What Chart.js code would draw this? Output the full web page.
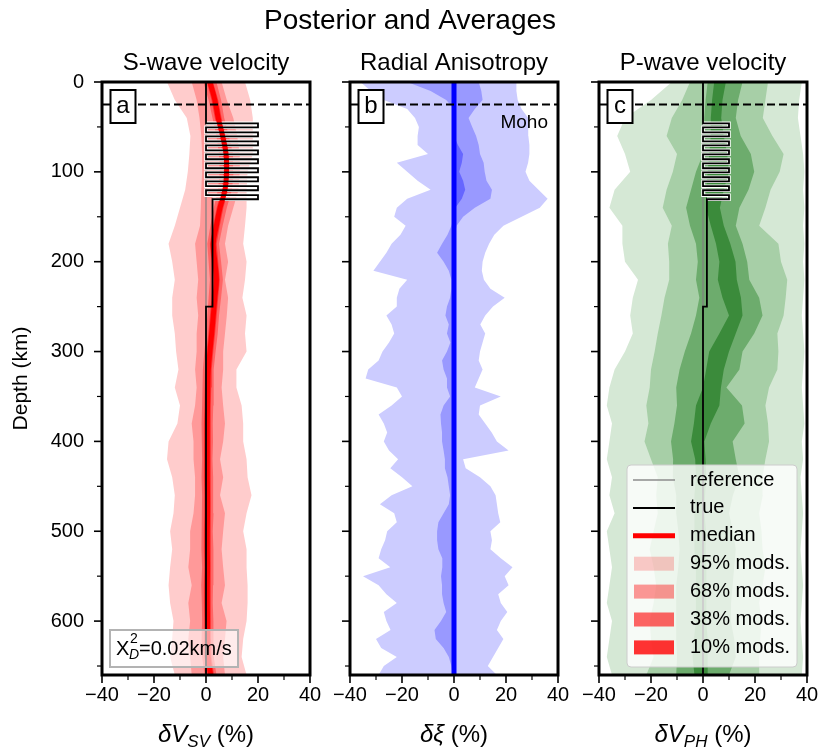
<!DOCTYPE html>
<html>
<head>
<meta charset="utf-8">
<title>Posterior and Averages</title>
<script src="https://cdn.jsdelivr.net/npm/chart.js@4"></script>
<style>
  html, body { margin: 0; padding: 0; background: #fff; }
  #figure { position: relative; width: 822px; height: 755px; }
  #figure canvas { position: absolute; left: 0; top: 0; }
</style>
</head>
<body>
<div id="figure">
  <canvas id="panelA" width="822" height="755"></canvas>
  <canvas id="panelB" width="822" height="755"></canvas>
  <canvas id="panelC" width="822" height="755"></canvas>
</div>
<script>
const FONT = "'Liberation Sans', Arial, Helvetica, sans-serif";

// ---- depth grids (km) ----
const depth20 = [0, 20, 40, 60, 80, 100, 120, 140, 160, 180, 200, 220, 240, 260, 280, 300, 320,
  340, 360, 380, 400, 420, 440, 460, 480, 500, 520, 540, 560, 580, 600, 620, 640, 660];
const depth10 = [0, 10, 20, 30, 40, 50, 60, 70, 80, 90, 100, 110, 120, 130, 140, 150, 160, 170, 180, 190,
  200, 210, 220, 230, 240, 250, 260, 270, 280, 290, 300, 310, 320, 330, 340, 350, 360, 370, 380, 390,
  400, 410, 420, 430, 440, 450, 460, 470, 480, 490, 500, 510, 520, 530, 540, 550, 560, 570, 580, 590,
  600, 610, 620, 630, 640, 650, 660];

// ---- reference and true models ----
const refDepth = [0, 660];
const refValue = [0, 0];
const mohoDepth = 25;
const trueDepth = [0, 46, 46, 50.5, 50.5, 56, 56, 60.5, 60.5, 66, 66, 70.5, 70.5, 76, 76, 80.5, 80.5, 86,
  86, 90.5, 90.5, 96, 96, 100.5, 100.5, 106, 106, 110.5, 110.5, 116, 116, 120.5, 120.5, 126, 126, 130.5,
  130.5, 250, 250, 660];
const trueVs = [0, 0, 20, 20, 0, 0, 20, 20, 0, 0, 20, 20, 0, 0, 20, 20, 0, 0, 20, 20, 0, 0, 20, 20, 0, 0,
  20, 20, 0, 0, 20, 20, 0, 0, 20, 20, 2.5, 2.5, 0, 0];
const trueVp = [0, 0, 10, 10, 0, 0, 10, 10, 0, 0, 10, 10, 0, 0, 10, 10, 0, 0, 10, 10, 0, 0, 10, 10, 0, 0,
  10, 10, 0, 0, 10, 10, 0, 0, 10, 10, 1.5, 1.5, 0, 0];

// ---- dVsv (%) percentile envelopes on depth20 ----
const vs95lo = [-15, -12, -7.4, -6, -6.4, -7, -8, -10, -12, -14.4, -13, -12, -13, -13, -12, -11.5, -10.6,
  -12, -10, -11, -14.4, -15, -13, -12, -12.5, -13.8, -13, -13.8, -14.4, -13.8, -12.5, -13, -13.8, -12];
const vs95hi = [15, 17, 18, 18, 18, 16, 15.6, 15.6, 15, 14.3, 15.6, 15, 14, 15.6, 15, 15.6, 11.7,
  11.7, 13.7, 14.3, 14.3, 15.6, 16, 17.5, 15.6, 14.3, 15.6, 15.6, 16, 16, 15.6, 14.3, 13.7, 15.6];
const vs68lo = [-5.5, -3.6, -2.5, -1.8, -1.5, -1.5, -1.8, -2, -2.3, -4.2, -3.6, -3, -3.6, -3, -3.6, -3.6, -4.2,
  -3.6, -4.2, -5.5, -4.8, -4.8, -4.2, -4.2, -4.8, -6.1, -6.1, -6.8, -5.5, -6.8, -6.1, -6.8, -6.1, -5.5];
const vs68hi = [6, 8, 10.5, 12, 13, 13, 12.5, 10.5, 8.5, 7.3, 8.5, 7.3, 8.5, 8, 7.3, 6.6, 6.6,
  6, 6.6, 7.3, 6.6, 5.4, 6.6, 5.4, 7.3, 6.6, 6, 6.6, 7.3, 6, 7.9, 7.3, 6.6, 7.3];
const vs38lo = [-1, 1, 2.5, 4, 5, 5.3, 4.6, 3, 1.7, 0.5, 1, 1.5, 1, 0.5, 0, -0.6, -1.2,
  -1.5, -1.5, -1.7, -1.6, -1.5, -1.7, -1.5, -1.6, -1.8, -1.7, -1.5, -1.8, -1.6, -1.5, -1.7, -1.5, -0.5];
const vs38hi = [4, 5.8, 7, 8.8, 10.4, 10.6, 10, 8, 6.4, 5, 5.8, 6.5, 5.8, 5, 4.5, 3.7, 3,
  2.9, 2.8, 2.6, 2.7, 2.5, 2.8, 2.7, 2.9, 2.6, 2.8, 2.9, 2.7, 2.6, 2.9, 2.8, 3, 4];
const vs10lo = [0.3, 2.1, 3.4, 5.1, 6.4, 6.6, 6, 4.1, 2.7, 1.5, 2.1, 2.7, 2.1, 1.5, 0.9, 0.2, -0.4,
  -0.6, -0.7, -0.8, -0.8, -0.8, -0.8, -0.7, -0.7, -0.8, -0.8, -0.7, -0.8, -0.8, -0.7, -0.7, -0.5, 0.5];
const vs10hi = [2.7, 4.7, 6, 7.7, 9, 9.2, 8.6, 6.7, 5.3, 4.1, 4.7, 5.3, 4.7, 4.1, 3.5, 2.8, 2.2,
  2, 1.9, 1.8, 1.8, 1.8, 1.8, 1.9, 1.9, 1.8, 1.8, 1.9, 1.8, 1.8, 1.9, 1.9, 2.1, 3.1];
const vsMedian = [1.5, 3.4, 4.7, 6.4, 7.7, 7.9, 7.3, 5.4, 4, 2.8, 3.4, 4, 3.4, 2.8, 2.2, 1.5, 0.9,
  0.7, 0.6, 0.5, 0.5, 0.5, 0.5, 0.6, 0.6, 0.5, 0.5, 0.6, 0.5, 0.5, 0.6, 0.6, 0.8, 1.8];

// ---- dxi (%) envelopes on depth10 ----
const xi95lo = [-36, -32, -27, -18, -15, -13.5, -14, -14, -10, -22, -18, -14, -9, -18, -22, -23, -18.6,
  -20.6, -24, -26, -28.5, -31, -18, -21, -22, -22, -26, -24, -23, -25, -27.5, -29, -33, -34,
  -22, -20, -24, -29, -27, -25.7, -27, -25, -21.5, -24.5, -20, -16, -24, -28.5, -23, -22, -25.7,
  -26.5, -28, -29, -24.5, -35, -29, -26, -22, -27, -26, -24.4, -30, -28, -22, -27, -29];
const xi95hi = [24, 24, 24.5, 26, 28.5, 28.6, 28.6, 29, 29, 28.5, 27.5, 29, 32.5, 36, 33, 26, 19,
  15.5, 13.5, 12, 11, 10.7, 11.5, 14, 19.5, 15, 12, 10.1, 12, 11, 10, 9.5, 11, 9.5,
  8, 18, 10, 9.5, 12, 14.5, 16.5, 21, 3.5, 4.5, 10, 14, 16, 16.5, 17, 17.8, 14,
  14.6, 14, 18, 22.5, 19.5, 21, 17, 18, 20.5, 18, 16.5, 19, 17, 15, 13, 16.5];
const xi68lo = [-18, -9, -3, 0, 0, 0, 0, 0, 0, 0, 0, 0, 0, 0, 0, 0, -1,
  -2.5, -4.6, -6.5, -4, -2, -1, -1, -1.5, -2.7, -3.3, -2, -2.7, -1.4, -2.7, -4.6, -4, -2.7,
  -2.7, -1.5, -4, -5.2, -5, -4.6, -4.6, -4, -3.5, -3.5, -2.5, -2, -1.5, -2, -4, -6, -6.5,
  -6.5, -6, -4.5, -4.5, -5, -4.6, -4.6, -4, -3, -5, -7.5, -7, -4, -2, -1, -0.5];
const xi68hi = [9.5, 10.5, 11, 8, 5.6, 7, 8.5, 9.5, 10, 11.4, 11.8, 12.5, 14.6, 14, 8, 3.5, 1,
  0.3, 0.3, 0.3, 0.3, 0.3, 0.3, 0.3, 0.3, 0.3, 0.3, 0.3, 0.3, 0.3, 0.3, 0.3, 0.3, 0.3,
  0.3, 0.3, 0.3, 0.3, 0.3, 0.3, 0.3, 0.3, 0.3, 0.3, 0.3, 0.3, 0.3, 0.3, 0.3, 0.3, 0.3,
  0.3, 0.3, 0.3, 0.3, 0.3, 0.3, 0.3, 0.3, 0.3, 0.3, 0.3, 0.3, 0.3, 0.3, 0.3, 0.3];
const xi38Depth = [60, 70, 80, 90, 100, 110, 120, 130, 140, 150];
const xi38lo = [0, 0, 0, 0, 0, 0, 0, 0, 0, 0];
const xi38hi = [0, 1.5, 3.5, 3, 2, 3.5, 4.3, 3, 0.5, 0];
const xiMedian = [0, 0];

// ---- dVph (%) envelopes on depth20 ----
const vp95lo = [-12, -20, -30, -33, -30, -28, -34, -36, -31, -31, -30, -25, -27, -28, -27, -30, -34,
  -36, -37, -35, -36, -37, -35, -36, -34, -37, -36, -35, -36, -37, -35, -36, -37, -35];
const vp95hi = [38, 37, 36.5, 37.5, 38.5, 39, 38.5, 39, 38.5, 39, 38.5, 39, 38.5, 38, 38.5, 39, 38.5,
  38, 38.5, 39, 38, 38.5, 37.5, 38, 38.5, 38, 37.5, 38, 38.5, 38, 37.5, 38, 38.5, 38];
const vp68lo = [-5, -8, -12, -14, -10, -11.6, -14, -15.5, -12, -13.5, -13, -13, -14.8, -16, -17.4, -18.6, -20,
  -20.5, -21.8, -21, -22.5, -20, -17.4, -18, -17.4, -19, -20.5, -19, -18, -19, -20.5, -20, -19, -21.8];
const vp68hi = [25, 24, 23, 26.7, 31, 29.5, 26, 24, 21.6, 29, 30, 32.4, 31.8, 31, 28.6, 29, 28.6,
  25.4, 24, 25, 25.4, 24, 22.9, 23, 21.6, 22.5, 22.9, 24, 22.9, 21.6, 22.5, 22, 21.6, 21.6];
const vp38lo = [1.8, 1, 0.5, 0.5, 0, -2.7, -4.6, -6.5, -5, -2.7, -2, -2.7, -1.4, -2.7, -4.6, -7, -9,
  -10.3, -10, -11, -12.3, -11.5, -11.6, -10.3, -10.3, -9.5, -9, -9.5, -10.3, -10.3, -10.3, -10.3, -10, -10.3];
const vp38hi = [15.2, 13.5, 12.6, 14.5, 18.4, 19.7, 17.5, 14, 12.6, 15.2, 17, 17.8, 21.6, 22.9, 19.7, 15.2, 14,
  9, 15, 16, 11.4, 12.6, 14, 11.5, 10, 11.5, 12.6, 12, 11.4, 10.8, 10.7, 12, 12.6, 10];
const vp10lo = [4.3, 3.5, 3, 3, 2.4, 1.8, 1.2, 1.2, 3, 5, 6.3, 5.7, 7.5, 10, 6.3, 2.4, 1.2,
  0, -2.7, -3.5, -4.6, -3, -2.7, -3.3, -3.3, -3.3, -3.3, -2.7, -2.7, -2.7, -2.7, -3.5, -4, -3.3];
const vp10hi = [8.8, 7.5, 7, 8, 9.3, 10, 8, 6.5, 8, 10.5, 12.5, 13, 14.6, 15.2, 12.6, 10, 8,
  6.9, 6.3, 3, 0.5, 1, 1.2, 0.8, 0.5, 1.2, 1, 1.2, 1.5, 1.2, 1.2, 1.8, 1.8, 1.8];

// ---- ticks and legend text ----
const xMajor = [-40, -20, 0, 20, 40];
const xMinor = [-30, -10, 10, 30];
const yMajor = [0, 100, 200, 300, 400, 500, 600];
const yMinor = [50, 150, 250, 350, 450, 550, 650];
const legendLabels = ['reference', 'true', 'median', '95% mods.', '68% mods.', '38% mods.', '10% mods.'];

// ---- layout ----
const PLOT_TOP = 82;
const PLOT_BOTTOM = 675;

Chart.defaults.font.family = FONT;

function pts(depth, vals) {
  return depth.map((d, i) => ({ x: vals[i], y: d }));
}

// closed polygon: down the low edge, back up the high edge
function band(depth, lo, hi, color) {
  return {
    data: pts(depth, lo).concat(pts(depth, hi).reverse()),
    fill: 'shape', backgroundColor: color, borderWidth: 0, pointRadius: 0
  };
}

function curve(depth, vals, color, width, extra) {
  return Object.assign({
    data: pts(depth, vals), borderColor: color, borderWidth: width,
    pointRadius: 0, fill: false, borderJoinStyle: 'miter'
  }, extra || {});
}

function mohoLine() {
  return curve([mohoDepth, mohoDepth], [-40, 40], '#000', 2, { borderDash: [8, 4] });
}

function fmtTick(v) {
  return (v < 0 ? '\u2212' : '') + Math.abs(v);
}

// text made of runs: [text, size, italic, dy]
function drawRuns(ctx, runs, cx, baseline) {
  const fontOf = r => (r[2] ? 'italic ' : '') + r[1] + 'px ' + FONT;
  let total = 0;
  const widths = runs.map(r => { ctx.font = fontOf(r); const w = ctx.measureText(r[0]).width; total += w; return w; });
  let x = cx - total / 2;
  ctx.textAlign = 'left';
  runs.forEach((r, i) => {
    ctx.font = fontOf(r);
    ctx.fillText(r[0], x, baseline + (r[3] || 0));
    x += widths[i];
  });
}

function decorPlugin(geom, extra) {
  return {
    id: 'panelDecor',
    afterDraw(chart) {
      const { ctx, chartArea: a, scales } = chart;
      const xs = scales.x, ys = scales.y;
      ctx.save();
      ctx.strokeStyle = '#000';
      ctx.fillStyle = '#000';

      // tick marks
      const xTick = (v, len, w) => {
        const p = xs.getPixelForValue(v);
        ctx.lineWidth = w;
        ctx.beginPath(); ctx.moveTo(p, a.bottom); ctx.lineTo(p, a.bottom + len); ctx.stroke();
      };
      const yTick = (v, len, w) => {
        const p = ys.getPixelForValue(v);
        ctx.lineWidth = w;
        ctx.beginPath(); ctx.moveTo(a.left, p); ctx.lineTo(a.left - len, p); ctx.stroke();
      };
      xMajor.forEach(v => xTick(v, 8, 1.6));
      xMinor.forEach(v => xTick(v, 5, 1.2));
      yMajor.forEach(v => yTick(v, 8, 1.6));
      yMinor.forEach(v => yTick(v, 5, 1.2));

      // frame
      ctx.lineWidth = 3;
      ctx.strokeRect(a.left, a.top, a.right - a.left, a.bottom - a.top);

      const cx = (a.left + a.right) / 2;
      ctx.textBaseline = 'alphabetic';
      ctx.textAlign = 'center';
      ctx.font = '24px ' + FONT;
      ctx.fillText(geom.title, cx, 70);
      drawRuns(ctx, geom.xlabel, cx, 742);

      // panel letter
      const bx = a.left + 8.5, by = a.top + 8;
      ctx.fillStyle = '#fff';
      ctx.fillRect(bx, by, 25, 33);
      ctx.lineWidth = 2;
      ctx.strokeRect(bx, by, 25, 33);
      ctx.fillStyle = '#000';
      ctx.textAlign = 'center';
      ctx.font = '24px ' + FONT;
      ctx.fillText(geom.letter, bx + 12.5, by + 23);

      if (extra) extra(ctx, a, xs, ys);
      ctx.restore();
    }
  };
}

function makePanel(id, geom, datasets, extra) {
  datasets.forEach((ds, i) => { ds.order = datasets.length - i; });
  return new Chart(document.getElementById(id), {
    type: 'line',
    data: { datasets },
    options: {
      responsive: false,
      animation: false,
      events: [],
      indexAxis: 'y',
      layout: { padding: { top: PLOT_TOP, right: 822 - geom.right, bottom: 0, left: 0 } },
      plugins: { legend: { display: false }, tooltip: { enabled: false } },
      scales: {
        x: {
          type: 'linear', position: 'bottom', min: -40, max: 40,
          grid: { display: false, drawTicks: false },
          border: { display: false },
          ticks: {
            stepSize: 20, autoSkip: false, maxRotation: 0, padding: 8, color: '#000',
            font: { family: FONT, size: 20 },
            callback: v => xMajor.includes(v) ? fmtTick(v) : ''
          },
          afterFit: s => { s.height = 755 - PLOT_BOTTOM; s.paddingLeft = 0; s.paddingRight = 0; }
        },
        y: {
          type: 'linear', position: 'left', min: 0, max: 660, reverse: true,
          grid: { display: false, drawTicks: false },
          border: { display: false },
          ticks: {
            display: geom.yLabels, stepSize: 100, includeBounds: false, autoSkip: false,
            padding: 18, color: '#000', font: { family: FONT, size: 20 },
            callback: v => yMajor.includes(v) ? String(v) : ''
          },
          title: {
            display: geom.yLabels, text: 'Depth (km)', color: '#000',
            font: { family: FONT, size: 21 }, padding: { top: 9, bottom: 0 }
          },
          afterFit: s => { s.width = geom.left; s.paddingTop = 0; s.paddingBottom = 0; }
        }
      }
    },
    plugins: [decorPlugin(geom, extra)]
  });
}

// ---- panel a: S-wave velocity ----
makePanel('panelA', {
  left: 102, right: 310, yLabels: true, letter: 'a', title: 'S-wave velocity',
  xlabel: [['\u03b4V', 24, true], ['SV', 17, true, 5], [' (%)', 24, false]]
}, [
  band(depth20, vs95lo, vs95hi, '#ffcccc'),
  band(depth20, vs68lo, vs68hi, '#ff9999'),
  band(depth20, vs38lo, vs38hi, '#ff6666'),
  band(depth20, vs10lo, vs10hi, '#ff3333'),
  curve(refDepth, refValue, '#808080', 1.2),
  curve(trueDepth.slice(1, 37), trueVs.slice(1, 37), '#ffffff', 3.5),
  curve(depth20, vsMedian, '#ff0000', 5, { tension: 0.4 }),
  curve(trueDepth, trueVs, '#000000', 1.8),
  mohoLine()
], (ctx, a) => {
  // misfit box
  const x0 = a.left + 8, y0 = a.bottom - 45;
  ctx.fillStyle = 'rgba(255,255,255,0.6)';
  ctx.fillRect(x0, y0, 128, 37);
  ctx.strokeStyle = '#b3b3b3';
  ctx.lineWidth = 2;
  ctx.strokeRect(x0, y0, 128, 37);
  ctx.fillStyle = '#000';
  ctx.textAlign = 'left';
  ctx.font = '20px ' + FONT;
  ctx.fillText('X', x0 + 6, y0 + 25);
  ctx.font = '14px ' + FONT;
  ctx.fillText('2', x0 + 20, y0 + 13);
  ctx.font = 'italic 14px ' + FONT;
  ctx.fillText('D', x0 + 19, y0 + 29);
  ctx.font = '20px ' + FONT;
  ctx.fillText('=0.02km/s', x0 + 29, y0 + 25);
});

// ---- panel b: radial anisotropy ----
makePanel('panelB', {
  left: 350, right: 558, yLabels: false, letter: 'b', title: 'Radial Anisotropy',
  xlabel: [['\u03b4\u03be', 24, true], [' (%)', 24, false]]
}, [
  band(depth10, xi95lo, xi95hi, '#ccccff'),
  band(depth10, xi68lo, xi68hi, '#9999ff'),
  band(xi38Depth, xi38lo, xi38hi, '#6666ff'),
  curve(refDepth, refValue, '#808080', 1.2),
  curve(refDepth, xiMedian, '#0000ff', 5),
  mohoLine()
], (ctx, a, xs, ys) => {
  ctx.fillStyle = '#000';
  ctx.textAlign = 'right';
  ctx.font = '19px ' + FONT;
  ctx.fillText('Moho', a.right - 10, ys.getPixelForValue(mohoDepth) + 24);
  // figure title
  ctx.textAlign = 'center';
  ctx.font = '28px ' + FONT;
  ctx.fillText('Posterior and Averages', 410, 29);
});

// ---- panel c: P-wave velocity ----
makePanel('panelC', {
  left: 599, right: 807, yLabels: false, letter: 'c', title: 'P-wave velocity',
  xlabel: [['\u03b4V', 24, true], ['PH', 17, true, 5], [' (%)', 24, false]]
}, [
  band(depth20, vp95lo, vp95hi, '#d5e8d5'),
  band(depth20, vp68lo, vp68hi, '#a7cfa7'),
  band(depth20, vp38lo, vp38hi, '#6dac6d'),
  band(depth20, vp10lo, vp10hi, '#3b8b3b'),
  curve(refDepth, refValue, '#808080', 1.2),
  curve(trueDepth.slice(1, 37), trueVp.slice(1, 37), '#ffffff', 3.5),
  curve(trueDepth, trueVp, '#000000', 1.8),
  mohoLine()
], (ctx, a) => {
  // legend
  const lx = a.left + 28, ly = a.bottom - 210, lw = 170, lh = 202, r = 4;
  ctx.beginPath();
  ctx.moveTo(lx + r, ly);
  ctx.arcTo(lx + lw, ly, lx + lw, ly + lh, r);
  ctx.arcTo(lx + lw, ly + lh, lx, ly + lh, r);
  ctx.arcTo(lx, ly + lh, lx, ly, r);
  ctx.arcTo(lx, ly, lx + lw, ly, r);
  ctx.closePath();
  ctx.fillStyle = 'rgba(255,255,255,0.8)';
  ctx.fill();
  ctx.strokeStyle = '#cccccc';
  ctx.lineWidth = 1;
  ctx.stroke();

  const hx0 = lx + 6, hx1 = lx + 48;
  const handles = [
    { line: '#8c8c8c', w: 1.5 },
    { line: '#000000', w: 2 },
    { line: '#ff0000', w: 5 },
    { fill: 'rgba(255,0,0,0.2)' },
    { fill: 'rgba(255,0,0,0.4)' },
    { fill: 'rgba(255,0,0,0.6)' },
    { fill: 'rgba(255,0,0,0.8)' }
  ];
  ctx.textAlign = 'left';
  ctx.textBaseline = 'middle';
  ctx.font = '20px ' + FONT;
  legendLabels.forEach((label, i) => {
    const cy = ly + 15 + i * 27.9;
    const h = handles[i];
    if (h.line) {
      ctx.strokeStyle = h.line;
      ctx.lineWidth = h.w;
      ctx.beginPath(); ctx.moveTo(hx0, cy); ctx.lineTo(hx1, cy); ctx.stroke();
    } else {
      ctx.fillStyle = h.fill;
      ctx.fillRect(hx0 + 1, cy - 7, hx1 - hx0 - 2, 14);
    }
    ctx.fillStyle = '#000';
    ctx.fillText(label, lx + 63, cy);
  });
});
</script>
</body>
</html>
